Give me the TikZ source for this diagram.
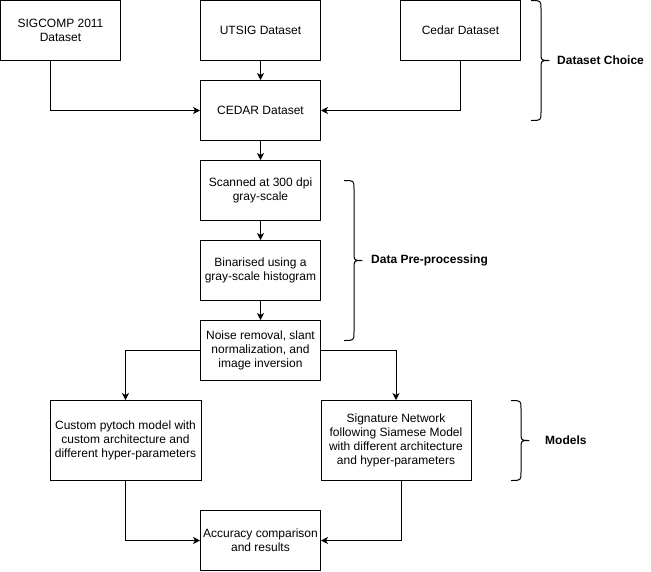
\documentclass[tikz,border=0pt]{standalone}
\usepackage{fontspec}
\setmainfont{Liberation Sans}
\usetikzlibrary{arrows.meta}
\begin{document}
\begin{tikzpicture}[x=1pt,y=-1pt,
  every node/.style={font=\fontsize{12}{14}\selectfont, align=center, inner sep=0pt},
  box/.style={draw=black, line width=1pt, fill=white, minimum width=120pt, minimum height=60pt},
  widebox/.style={box, minimum width=150pt, minimum height=80pt},
  arr/.style={line width=1pt, -{Stealth[length=7pt,width=7pt,inset=2pt]}},
  brace/.style={line width=1pt, line join=round},
  lbl/.style={font=\fontsize{12}{14}\selectfont\bfseries, anchor=west}]
\useasboundingbox (0,0) rectangle (651,571);

% source datasets
\node[box] (sig) at (60.5,30.5) {SIGCOMP 2011\\Dataset};
\node[box] (utsig) at (260.5,30.5) {UTSIG Dataset};
\node[box] (cedarsrc) at (460.5,30.5) {Cedar Dataset};

% chosen dataset and pre-processing steps
\node[box] (cedar) at (260.5,110.5) {CEDAR Dataset};
\node[box] (scan) at (260.5,190.5) {Scanned at 300 dpi\\gray-scale};
\node[box] (bin) at (260.5,270.5) {Binarised using a\\gray-scale histogram};
\node[box] (noise) at (260.5,350.5) {Noise removal, slant\\normalization, and\\image inversion};

% models
\node[widebox, minimum width=151pt] (custom) at (125.5,440.5) {Custom pytoch model with\\custom architecture and\\different hyper-parameters};
\node[widebox] (siamese) at (396,440.5) {Signature Network\\following Siamese Model\\with different architecture\\and hyper-parameters};

% evaluation
\node[box] (acc) at (260.5,540.5) {Accuracy comparison\\and results};

% connectors
\draw[arr] ([xshift=-10pt]sig.south) |- (cedar.west);
\draw[arr] (utsig.south) -- (cedar.north);
\draw[arr] (cedarsrc.south) |- (cedar.east);
\draw[arr] (cedar.south) -- (scan.north);
\draw[arr] (scan.south) -- (bin.north);
\draw[arr] (bin.south) -- (noise.north);
\draw[arr] (noise.west) -| (custom.north);
\draw[arr] (noise.east) -| (siamese.north);
\draw[arr] (custom.south) |- (acc.west);
\draw[arr] ([xshift=5pt]siamese.south) |- (acc.east);

% stage braces
\draw[brace] (531,0.5) .. controls (541,0.5) .. (541,9) -- (541,52)
  .. controls (541,60.5) .. (549,60.5) .. controls (541,60.5) .. (541,69)
  -- (541,112) .. controls (541,120.5) .. (531,120.5);
\draw[brace] (344,180.5) .. controls (354,180.5) .. (354,189) -- (354,252)
  .. controls (354,260.5) .. (362,260.5) .. controls (354,260.5) .. (354,269)
  -- (354,332) .. controls (354,340.5) .. (344,340.5);
\draw[brace] (511,400.5) .. controls (521,400.5) .. (521,409) -- (521,432)
  .. controls (521,440.5) .. (529,440.5) .. controls (521,440.5) .. (521,449)
  -- (521,472) .. controls (521,480.5) .. (511,480.5);

% stage labels
\node[lbl] (lchoice) at (557,60.5) {Dataset Choice};
\node[lbl] (lprep) at (371,260.5) {Data Pre-processing};
\node[lbl] (lmodels) at (545,440.5) {Models};
\end{tikzpicture}
\end{document}
